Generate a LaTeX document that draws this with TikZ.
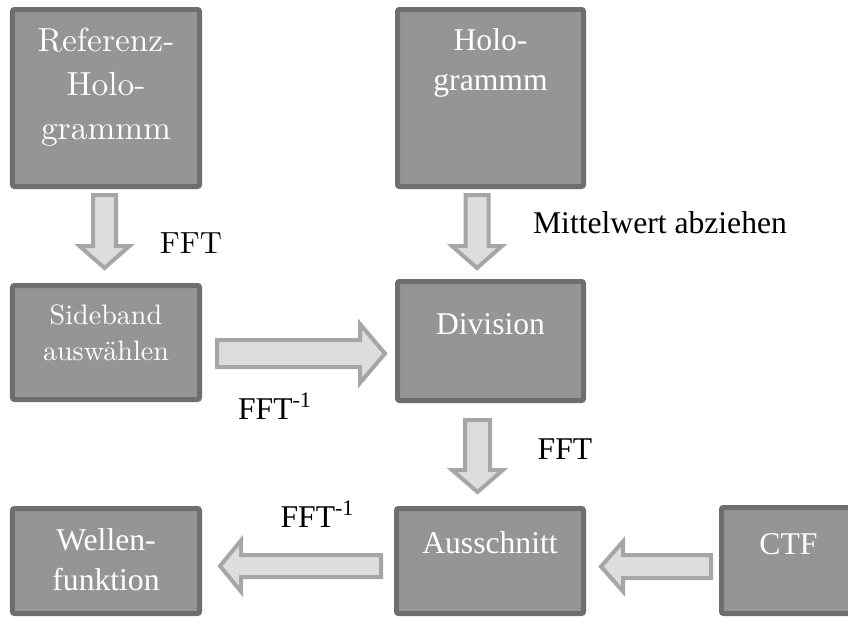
\documentclass[tikz,border=0pt]{standalone}
\usepackage{fontspec}
\usetikzlibrary{positioning,calc}
\newfontfamily\tnr{Liberation Serif}
\newfontfamily\lmr{lmroman10-regular}[Extension=.otf]

\definecolor{boxfill}{RGB}{149,149,149}
\definecolor{boxline}{RGB}{110,110,110}
\definecolor{arrowfill}{RGB}{221,221,221}
\definecolor{arrowline}{RGB}{166,166,166}

\tikzset{
  box/.style={draw=boxline, fill=boxfill, line width=0.1cm, rounded corners=0.04cm, inner sep=0pt},
  boxtext/.style={text=white, align=center, inner sep=0pt},
  lmbig/.style={font=\lmr\fontsize{19}{25}\selectfont},
  lmsmall/.style={font=\lmr\fontsize{16}{20.4}\selectfont},
  tnrtext/.style={font=\tnr\fontsize{18}{22.7}\selectfont},
  arrowshaft/.initial=0.23cm,
  arrowhead/.initial=0.50cm,
  arrowtip/.initial=0.44cm,
  % block arrow drawn as one outlined polygon from start to target
  blockarrow/.style={draw=arrowline, fill=arrowfill, line width=0.08cm, line join=miter,
    to path={
      ($(\tikztostart)!\pgfkeysvalueof{/tikz/arrowshaft}!90:(\tikztotarget)$)
      -- ($($(\tikztotarget)!\pgfkeysvalueof{/tikz/arrowtip}!(\tikztostart)$)!\pgfkeysvalueof{/tikz/arrowshaft}!90:(\tikztotarget)$)
      -- ($($(\tikztotarget)!\pgfkeysvalueof{/tikz/arrowtip}!(\tikztostart)$)!\pgfkeysvalueof{/tikz/arrowhead}!90:(\tikztotarget)$)
      -- (\tikztotarget)
      -- ($($(\tikztotarget)!\pgfkeysvalueof{/tikz/arrowtip}!(\tikztostart)$)!\pgfkeysvalueof{/tikz/arrowhead}!-90:(\tikztotarget)$)
      -- ($($(\tikztotarget)!\pgfkeysvalueof{/tikz/arrowtip}!(\tikztostart)$)!\pgfkeysvalueof{/tikz/arrowshaft}!-90:(\tikztotarget)$)
      -- ($(\tikztostart)!\pgfkeysvalueof{/tikz/arrowshaft}!-90:(\tikztotarget)$)
      -- cycle}},
}

\begin{document}
\begin{tikzpicture}
\useasboundingbox (0,0) rectangle (16.96,-12.34);
\clip (0,0) rectangle (16.96,-12.34);

\node[box, minimum width=3.74cm, minimum height=3.54cm] (ref) at (2.12,-1.96) {};
\node[box, minimum width=3.72cm, minimum height=3.54cm] (holo) at (9.81,-1.96) {};
\node[box, minimum width=3.74cm, minimum height=2.28cm] (side) at (2.12,-6.85) {};
\node[box, minimum width=3.72cm, minimum height=2.38cm] (div) at (9.81,-6.82) {};
\node[box, minimum width=3.74cm, minimum height=2.10cm] (aus) at (9.80,-11.22) {};
\node[box, minimum width=2.68cm, minimum height=2.12cm] (ctf) at (15.77,-11.21) {};
\node[box, minimum width=3.74cm, minimum height=2.10cm] (wave) at (2.12,-11.22) {};

\node[boxtext, lmbig, below=0.42cm of ref.north] (reft) {Referenz-\\Holo-\\grammm};
\node[boxtext, tnrtext, below=0.42cm of holo.north] (holot) {Holo-\\grammm};
\node[boxtext, lmsmall, below=0.42cm of side.north] (sidet) {Sideband\\auswählen};
\node[boxtext, tnrtext, below=0.68cm of div.north] (divt) {Division};
\node[boxtext, tnrtext, below=0.50cm of aus.north] (aust) {Ausschnitt};
\node[boxtext, tnrtext, below=0.56cm of ctf.north] (ctft) {CTF};
\node[boxtext, tnrtext, below=0.44cm of wave.north] (wavet) {Wellen-\\funktion};

\coordinate (a1) at (2.09,-3.90);
\coordinate (b1) at (2.09,-5.36);
\coordinate (a2) at (9.54,-3.90);
\coordinate (b2) at (9.54,-5.36);
\coordinate (a3) at (4.34,-7.07);
\coordinate (b3) at (7.70,-7.07);
\coordinate (a4) at (9.55,-8.40);
\coordinate (b4) at (9.55,-9.84);
\coordinate (a5) at (14.22,-11.33);
\coordinate (b5) at (12.02,-11.33);
\coordinate (a6) at (7.62,-11.32);
\coordinate (b6) at (4.40,-11.32);

\draw[blockarrow] (a1) to (b1);
\draw[blockarrow] (a2) to (b2);
\draw[blockarrow, arrowshaft=0.27cm, arrowhead=0.59cm, arrowtip=0.50cm] (a3) to (b3);
\draw[blockarrow, arrowshaft=0.25cm, arrowhead=0.51cm] (a4) to (b4);
\draw[blockarrow] (a5) to (b5);
\draw[blockarrow, arrowshaft=0.22cm, arrowhead=0.51cm, arrowtip=0.42cm] (a6) to (b6);

\node[anchor=base, font=\lmr\fontsize{17.4}{20}\selectfont] (l1) at (3.82,-5.06) {FFT};
\node[anchor=base, tnrtext] (l2) at (13.20,-4.66) {Mittelwert abziehen};
\node[anchor=base, tnrtext] (l3) at (5.50,-8.38) {FFT\textsuperscript{-1}};
\node[anchor=base, tnrtext] (l4) at (11.30,-9.18) {FFT};
\node[anchor=base, tnrtext] (l5) at (6.35,-10.54) {FFT\textsuperscript{-1}};

\end{tikzpicture}
\end{document}
